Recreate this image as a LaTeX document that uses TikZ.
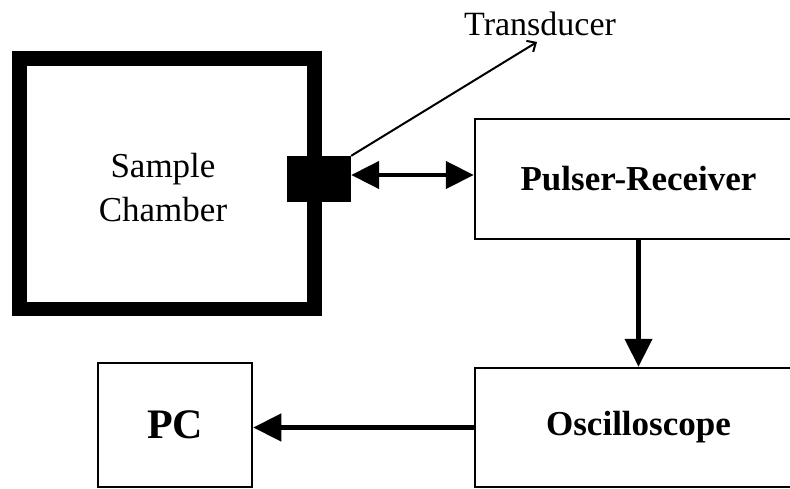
\documentclass[tikz,border=0pt]{standalone}
\usepackage{fontspec}
\setmainfont{Liberation Serif}
\usetikzlibrary{arrows.meta}
\begin{document}
\begin{tikzpicture}[x=1pt,y=-1pt,
  box/.style={draw,line width=2.5pt,inner sep=0pt,font=\fontsize{35}{42}\selectfont\bfseries},
  bigarrow/.style={line width=4.5pt,-{Triangle[length=28pt,width=27pt]}},
  dblarrow/.style={line width=4.5pt,{Triangle[length=28pt,width=27pt]}-{Triangle[length=28pt,width=27pt]}},
  thinarrow/.style={line width=2pt,-{Straight Barb[length=7pt,width=13pt,line width=2pt]}}]
\useasboundingbox (0,0) rectangle (790,489);
\clip (0,0) rectangle (790,489);
% sample chamber
\node[draw,line width=14.5pt,minimum width=295pt,minimum height=250.5pt,inner sep=0pt] (ch) at (167,183.75) {};
\node[align=center,font=\fontsize{35}{44}\selectfont,inner sep=0pt] (chl) at (163,188) {Sample\\Chamber};
% transducer block
\node[fill=black,minimum width=64pt,minimum height=46pt,inner sep=0pt] (tb) at (319,179) {};
% boxes
\node[box,minimum width=327pt,minimum height=120pt] (pr) at (638.5,179) {Pulser-Receiver};
\node[box,minimum width=327pt,minimum height=119pt] (osc) at (638.5,427.5) {Oscilloscope};
\node[box,minimum width=154pt,minimum height=124pt,font=\fontsize{42}{48}\selectfont\bfseries] (pc) at (175,425) {PC};
% transducer label
\node[anchor=base west,font=\fontsize{34}{40}\selectfont,inner sep=0pt] (tl) at (464,36) {Transducer};
\coordinate (tip) at (537,42);
% connectors
\draw[thinarrow] (tb.north east) -- (tip);
\draw[dblarrow] ([yshift=4pt]tb.east) -- ([yshift=4pt]tb.east -| pr.west);
\draw[bigarrow] (pr.south) -- (osc.north);
\draw[bigarrow] (osc.west) -- (osc.west -| pc.east);
\end{tikzpicture}
\end{document}
